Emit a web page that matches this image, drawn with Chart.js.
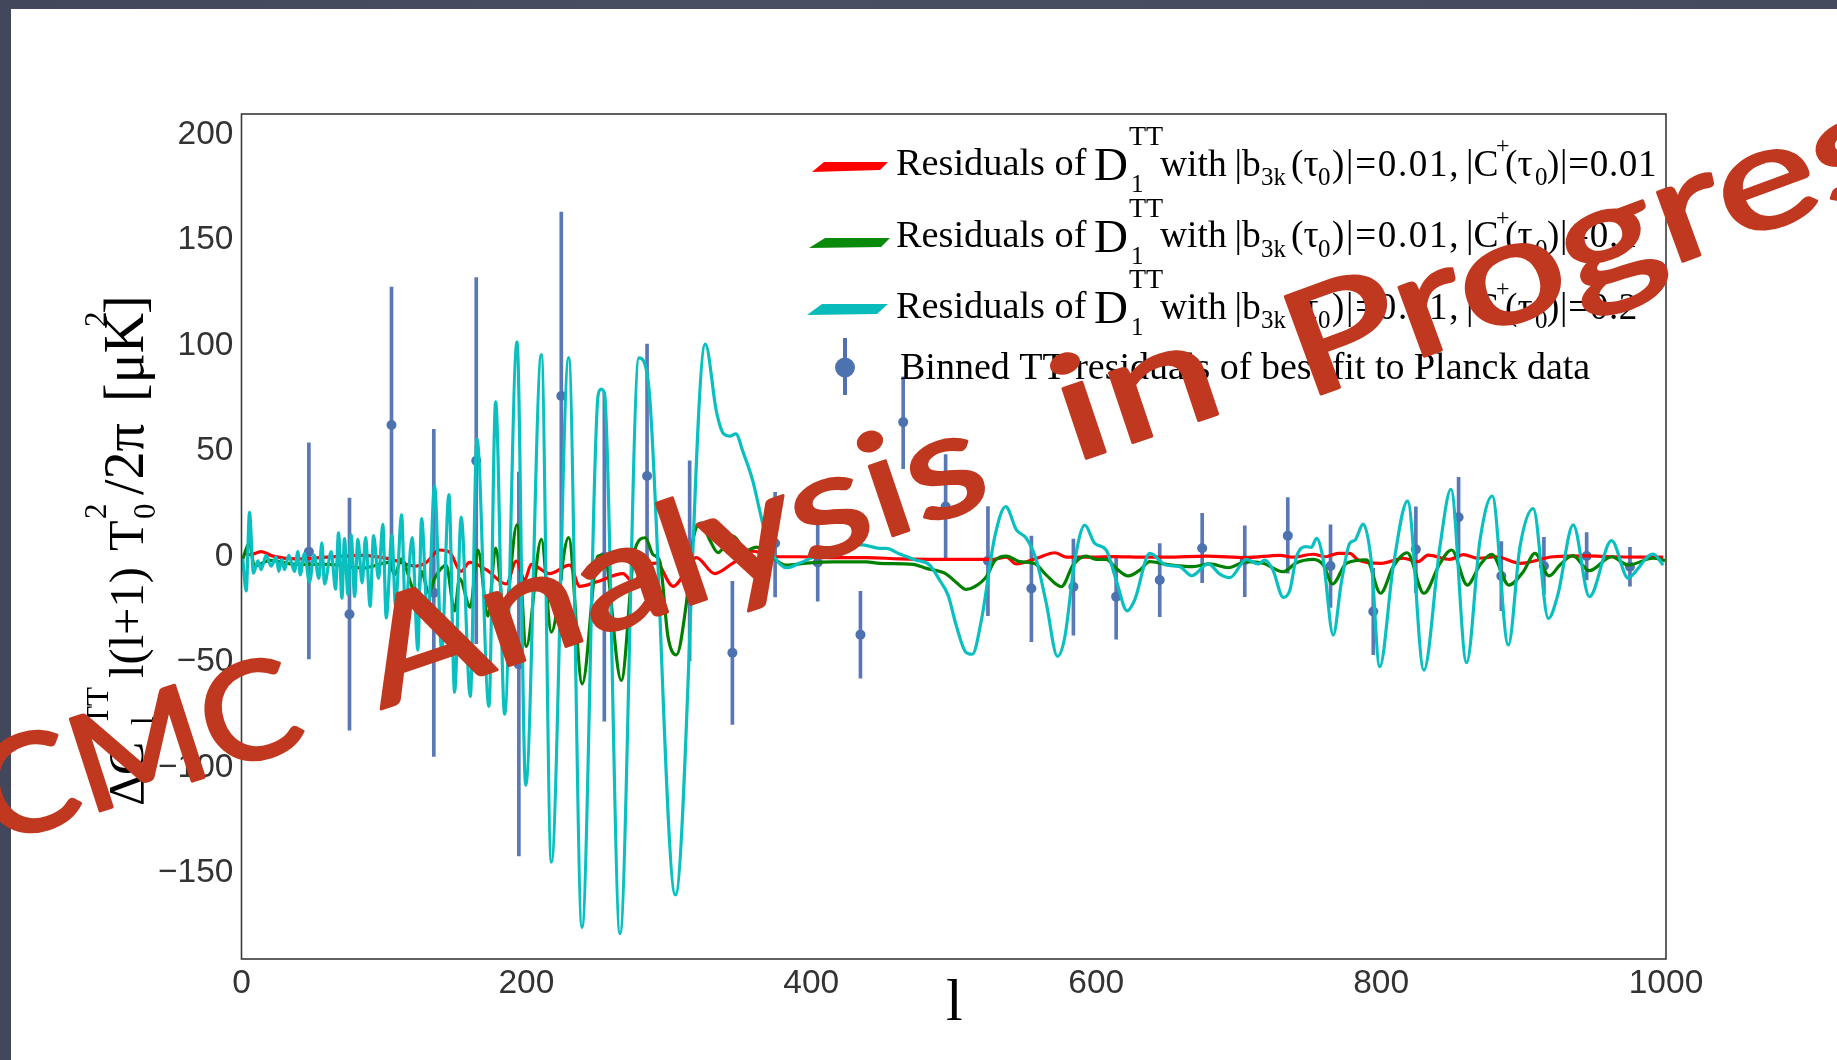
<!DOCTYPE html>
<html><head><meta charset="utf-8">
<style>
html,body{margin:0;padding:0;width:1837px;height:1060px;overflow:hidden;background:linear-gradient(90deg,#43475c,#4a4e63 40%,#454a5e);}
#slide{position:absolute;left:11px;top:9px;width:1826px;height:1051px;background:#fff;}
canvas{position:absolute;left:0;top:0;}
</style>
<script src="https://cdn.jsdelivr.net/npm/chart.js@4"></script>
</head><body><div id="slide"></div><canvas id="c" width="1837" height="1060"></canvas>
<script>
const xTicks=[0,200,400,600,800,1000];
const yTicks=[-150,-100,-50,0,50,100,150,200];
const cyanL=[0.9,3.3,5.6,8.4,11.5,13.8,17.3,20.8,24.3,26.2,28.2,30.2,33.2,37.2,39.6,41.2,44.2,47.7,51,54.3,56.4,58.3,63,66,68.1,70.5,72.3,74.7,77,79.4,81.7,84.7,87.1,90.3,92.7,96.2,99.2,101.6,105.6,108.1,112.4,115,119.8,123.8,126.4,130.8,135.5,140.5,145.6,149.6,154.2,160.6,165.3,173.7,178.4,184.7,193.4,199.5,210.5,217.5,229.7,239,250.4,252.6,254.9,265.7,279,285.4,304.6,325.6,333.4,338.5,342.7,347,352,359,363.8,368.5,374.3,382.5,391.9,403.6,420,436,448,452.7,462,473.7,483,490,496,502,508.4,513,519.4,528.8,536.5,544,551,558,565,572.8,578,585,592,599,607,614,621.7,627,637.6,649,658.7,667,678.6,686.8,693.8,705.5,713.7,718.4,724,731.3,736,740.6,747.6,751,754.7,759.4,766.4,772,778,781.6,787.4,793,799,808.5,818.6,830,841.3,849,860,869.4,878,889.3,897.5,906.8,917.4,924,934.9,946.2,961.8,973.5,977,991,998];
const cyanV=[-2.8,-18,19.2,-9.6,-3.7,-7.9,-1.1,-6.2,-2,-8.7,-3,-7.9,-1.1,-8.7,0.6,-10.4,-0.3,-13.8,-1,-12.1,4.8,-14.7,0.6,-17.2,9.5,-21.4,6.8,-19.7,8.5,-20.6,6.5,-14.2,7.3,-25.3,8.2,-12.1,13.6,-30.8,8.5,-24.8,18,-27.4,7.3,-46,16.3,-32.4,31.9,-46,27.6,-66,17,-68,53.9,-72.7,71.6,-76.4,100,-110,94,-146.5,92.6,-177.4,75,77.6,75,-180.4,92.4,82,-162,99,67,56.4,55.4,56.4,48,34,20,7,-2,-7,-4.8,-1.2,3,3.8,2.2,2.2,-0.5,-3.4,-5.7,-12.8,-20,-35,-47,-48,-31.8,7.7,22,10.9,6.9,-3.4,-24,-49,-39.7,-3.4,13.2,4.5,1.4,-12.8,-27.4,-22.3,-0.2,-5.7,-6.5,-10.8,-5.2,-10,-11.7,-3,-5.2,-3.4,-8,-21,-17.5,-1.8,3,2.6,6.9,-3.3,-38.9,-14.4,4.6,6,13.7,-3.3,-53.9,-6.5,24.6,-55.5,3,30.2,-52,6,27,-43.6,3,21,-31,-20,13.3,-20.7,5.8,-12,-10,-0.5,-5.7];
const greenL=[0.9,5.6,9,20,38.4,61.8,85.2,104,107.4,112.4,119,123.8,126.2,131.6,135.5,143.7,149.6,153.1,160.6,166,173,178.4,184.7,193.4,199.9,210.5,217.5,229.6,239.2,250.2,254.5,266.6,276,283.5,288.9,293.6,299.4,305.3,312.3,317,322.8,328.7,334.5,345,354.4,361.4,368.5,382.5,396.5,415,438.7,448,471.4,480.8,494.8,501.8,508.9,514.7,522.9,528.8,537,546.3,556.8,565,575.6,583.8,593,600,607,614,622.4,630.6,637.6,649.3,668,679.7,692.6,705.5,717.2,731.3,740.6,752.3,759.4,765.9,775.7,789.8,799.6,808.5,818.3,830,841.3,849.5,860.5,869.4,877.6,889.7,899.8,908,918,925.5,934.5,946.2,961.8,973.5,991,999.3];
const greenV=[-2.8,4.8,-6.2,-3.5,-5.4,-5.4,-7.1,-4.5,-10.4,-2.8,-14.7,-23.1,-8.7,-18.9,-12.1,-5.9,-27.4,-12.1,-25.7,1.4,-29.9,2.3,-29.9,13.3,-44.3,6.5,-37.5,7.3,-62,-1.5,-1,-60.4,1.2,7.2,-0.8,-3.8,-39.7,-48.3,-23.8,6.2,14.1,6.2,0.2,8,1.2,2.8,0.2,-5.8,-4.8,-4.2,-4.2,-4.9,-5.4,-7.3,-10,-14,-17.3,-16,-11.2,-3.7,-1.5,-4.1,-5,-10.5,-16,-5.7,-1.5,-3,-3,-7.3,-10.9,-8.1,-4.1,-5.4,-6.5,-5.2,-7,-4.1,-4.9,-8.9,-4.6,-3,-5.7,-14.7,-4.9,-3.3,-19.1,-6.5,0.1,-19.1,-4.9,1.4,-15.2,-5.7,-0.6,-15.2,-8.9,-0.2,-10.9,-5.7,-1.3,-8.4,-1.8,-5.7,-2.5,-3.6];
const redL=[2,6,13.8,22,38.4,60,85.2,104,122.6,129.7,139,146,154.2,160,171.8,185.9,192.9,198.8,203.4,216.3,230.4,237.4,249,267.8,274.8,284.2,291.2,303,319.3,332.2,345,359,375.5,392,415,438.7,462,494.8,527.6,537,544,558,571,579,597.8,611.9,635,649,677.4,705.5,729,738,752.3,761,769.9,778,784,800.3,815.5,826,833,848.3,857.7,868.2,881,897.5,920.9,944.3,962,998];
const redV=[-0.3,-0.8,0.6,-1.5,-2.8,-2,-1.1,-2.8,-6.2,-4.5,1.4,0.4,-8.7,-4.5,-7.9,-14.7,-3.8,-12.8,-5.4,-9.8,-5.8,-15.8,-13.8,-9.8,-13.8,-5.8,-4.8,-15.8,-2.2,-9.8,-4.8,0.8,-1.8,-1.8,-2.2,-2.2,-2.8,-3,-3,-2,-5.2,-2.6,0.1,-2,-2,-1.7,-2,-2,-1.5,-2.2,-1.1,-2,-0.6,-1.8,-0.2,-0.2,-3.3,-4.9,-2.5,-4.1,-1,-3,-0.8,-2.5,-1.8,-4.9,-1.8,-1.4,-1.8,-2];
const binL=[47.3,75.8,105.3,135,164.8,194.7,224.5,254.7,284.7,314.6,344.6,374.6,404.5,434.5,464.5,494.3,524,554.5,584,614,644.6,674.4,704.3,734.5,764.5,794.5,824.4,854.4,884.4,914.3,944.3,974.7];
const binV=[0.6,-29,60.6,-18.9,43.7,-52.8,74.4,-1.8,36.5,-3.7,-47.3,4.6,-4.5,-38.7,62,22,-3.7,-16.8,-16,-20.7,-12.8,2.2,-3.4,8.2,-6.2,-27.7,1.7,16.9,-10.9,-6.2,-1.4,-6.5];
const binLo=[-50.2,-84,-5,-96.4,-43,-143.6,-12.8,-79.7,-23,-51.1,-81.3,-20.8,-22.8,-59.3,40,-2.6,-29.7,-42,-38.9,-40.8,-30.2,-14.1,-20.7,-9.6,-25.8,-48.2,-18.8,-2.5,-27.3,-19.6,-12.8,-15.7];
const binHi=[52.2,26,126,58.6,130.5,38.3,161.5,76,99,43.7,-13.4,28.7,14,-18.2,83.4,46.6,22,8,6.6,-2.6,4.5,18.8,12.8,26.2,13.3,-7.3,21.9,35.8,5.4,7.4,9.6,2.7];
const legendRows=["0.01","0.1","0.2"];
const legendColors=["#ff0000","#0a8a0a","#0abbbb"];
const legendLast="Binned TT residuals of best fit to Planck data";
const xLabel="l";
const SERIF='"Liberation Serif"';
function pairs(a,b){return a.map((x,i)=>({x:x,y:b[i]}));}
const overlay={id:'overlay',
 beforeDraw(ch){
  ch.scales.y.getLabelItems().forEach(it=>{it.options.translation[1]+=3.5;});
 },
 afterDatasetsDraw(ch){
  const a=ch.chartArea,c=ch.ctx;
  c.save();c.strokeStyle='#3a3a3a';c.lineWidth=1.6;c.strokeRect(a.left,a.top,a.right-a.left,a.bottom-a.top);c.restore();
  c.save();c.fillStyle='#000';c.textBaseline='alphabetic';c.textAlign='left';
  const t=(s,x,y,sz,sp)=>{c.font=sz+'px '+SERIF;c.letterSpacing=(sp||0)+'px';c.fillText(s,x,y);c.letterSpacing='0px';};
  const swatch=[[812,172,824,162,888,162,880,170],[809,248,825,238,890,238,881,247],[807,315,822,304,888,304,877,314]];
  legendRows.forEach((v,i)=>{
    const d=i*71.6;
    const p=swatch[i];c.fillStyle=legendColors[i];c.beginPath();c.moveTo(p[0],p[1]);c.lineTo(p[2],p[3]);c.lineTo(p[4],p[5]);c.lineTo(p[6],p[7]);c.closePath();c.fill();
    c.fillStyle='#000';
    t('Residuals of',896,175+d,38.3);
    t('D',1094,180+d,47);
    t('TT',1129,145+d,28);
    t('1',1131,192+d,25);
    t('with',1160,175.5+d,37.5);
    t('|b',1234.5,175.5+d,37.5);
    t('3k',1261,185+d,25);
    t('(τ',1291,175.5+d,37.5);
    t('0',1318,185+d,25);
    t(')|=0.01,',1332,175.5+d,37,1.7);
    t('|C',1466,175.5+d,37.5);
    t('+',1496,153+d,24);
    t('(τ',1505,175.5+d,37.5);
    t('0',1535,185+d,25);
    t(')|='+v,1547,175.5+d,37,0.7);
  });
  c.fillStyle='#4c72b0';c.fillRect(843,338,4,57);c.beginPath();c.ellipse(845,367.5,10,10,0,0,7);c.fill();
  c.fillStyle='#000';
  t(legendLast,900,379,38);
  t(xLabel,946,1020,60);
  c.save();c.translate(143,0);c.rotate(-Math.PI/2);
  const r=(s,Y,sz,off)=>{c.font=sz+'px '+SERIF;c.fillText(s,-Y,off||0);};
  r('Δ',806,50);r('C',775,50);r('TT',725,31,-35);r('l',725,31,10);
  r('l(l+1)',678,48.5);r('T',551,50);r('2',519,31,-37);r('0',519,31,12);
  r('/2π',495,56);r('[μK',402,56);r('2',327,31,-37);r(']',314,56);
  c.restore();
  const word=(s,x0,y0,x1,y1,sz)=>{
    c.save();c.font='400 '+sz+'px Lato';c.fillStyle='#c0381f';c.strokeStyle='#c0381f';c.lineWidth=3;c.lineJoin='round';
    const w=c.measureText(s).width,L=Math.hypot(x1-x0,y1-y0);
    c.translate(x0,y0);c.rotate(Math.atan2(y1-y0,x1-x0));c.scale(L/w,1);
    c.fillText(s,0,0);c.strokeText(s,0,0);c.restore();
  };
  word('MCMC',-135,887,310,743,135);
  word('Analysis',381,709,996,501,145);
  word('in',1072,463,1230,410,145);
  word('Progress',1305,400,1985,150,145);
  c.restore();
 }};
new Chart(document.getElementById('c'),{
 type:'line',
 data:{datasets:[
  {label:'Residuals r',data:pairs(redL,redV),borderColor:'#ff0000',borderWidth:3.2,pointRadius:0,cubicInterpolationMode:'monotone',order:3},
  {label:'Residuals g',data:pairs(greenL,greenV),borderColor:'#008000',borderWidth:3.2,pointRadius:0,cubicInterpolationMode:'monotone',order:2},
  {label:'Residuals c',data:pairs(cyanL,cyanV),borderColor:'#0abfbf',borderWidth:3.2,pointRadius:0,cubicInterpolationMode:'monotone',order:1},
  {label:'Binned',data:pairs(binL,binV),showLine:false,pointRadius:5,pointBackgroundColor:'#4c72b0',pointBorderWidth:0,order:4},
  {type:'bar',label:'Binned err',data:binL.map((x,i)=>({x:x,y:[binLo[i],binHi[i]]})),backgroundColor:'#5a78b6',barThickness:3,grouped:false,order:5}
 ]},
 options:{responsive:false,animation:false,devicePixelRatio:1,
  layout:{padding:{left:0,top:114,right:171,bottom:0}},
  plugins:{legend:{display:false},tooltip:{enabled:false}},
  scales:{
   x:{type:'linear',min:0,max:1000,offset:false,grid:{display:false,drawTicks:false},border:{display:false},
      afterBuildTicks(s){s.ticks=xTicks.map(v=>({value:v}));},
      afterFit(s){s.height=101;},
      ticks:{maxRotation:0,autoSkip:false,color:'#333',padding:5,callback:v=>String(v),font:{family:'"Liberation Sans"',size:33.5}}},
   y:{type:'linear',min:-192.4,max:208,grid:{display:false,drawTicks:false},border:{display:false},
      afterBuildTicks(s){s.ticks=yTicks.map(v=>({value:v}));},
      afterFit(s){s.width=241.5;},
      ticks:{autoSkip:false,color:'#333',padding:8,callback:v=>String(v).replace('-','\u2212'),font:{family:'"Liberation Sans"',size:33.5}}}
  }},
 plugins:[overlay]
});
</script></body></html>
